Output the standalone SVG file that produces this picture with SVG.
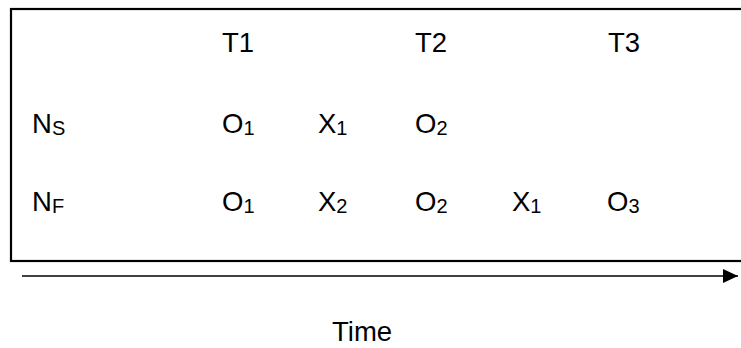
<svg xmlns="http://www.w3.org/2000/svg" width="741" height="348" viewBox="0 0 741 348">
  <style>
    text { font-family: "Liberation Sans", Arial, sans-serif; font-size: 27.5px; fill: #000; }
    .sub { font-size: 20px; }
  </style>
  <defs>
    <marker id="arrow" markerWidth="15" markerHeight="14" refX="15" refY="7" orient="auto" markerUnits="userSpaceOnUse">
      <path d="M0,0 L15,7 L0,14 Z" fill="#000"/>
    </marker>
  </defs>
  <rect width="741" height="348" fill="#fff"/>
  <g id="frame">
    <rect x="11" y="9" width="760" height="252" fill="none" stroke="#000" stroke-width="2.2"/>
  </g>
  <g id="headers">
    <text x="222" y="52">T1</text>
    <text x="415" y="52">T2</text>
    <text x="608" y="52">T3</text>
  </g>
  <g id="row-ns">
    <text x="32" y="133">N<tspan class="sub" dy="2">S</tspan></text>
    <text x="222" y="133">O<tspan class="sub" dy="2">1</tspan></text>
    <text x="318" y="133">X<tspan class="sub" dy="2">1</tspan></text>
    <text x="415" y="133">O<tspan class="sub" dy="2">2</tspan></text>
  </g>
  <g id="row-nf">
    <text x="32" y="211">N<tspan class="sub" dy="2">F</tspan></text>
    <text x="222" y="211">O<tspan class="sub" dy="2">1</tspan></text>
    <text x="318" y="211">X<tspan class="sub" dy="2">2</tspan></text>
    <text x="415" y="211">O<tspan class="sub" dy="2">2</tspan></text>
    <text x="512" y="211">X<tspan class="sub" dy="2">1</tspan></text>
    <text x="607" y="211">O<tspan class="sub" dy="2">3</tspan></text>
  </g>
  <g id="connectors">
    <line x1="22" y1="276" x2="738" y2="276" stroke="#000" stroke-width="1.6" marker-end="url(#arrow)"/>
  </g>
  <g id="time-label">
    <text x="332" y="341">Time</text>
  </g>
</svg>
